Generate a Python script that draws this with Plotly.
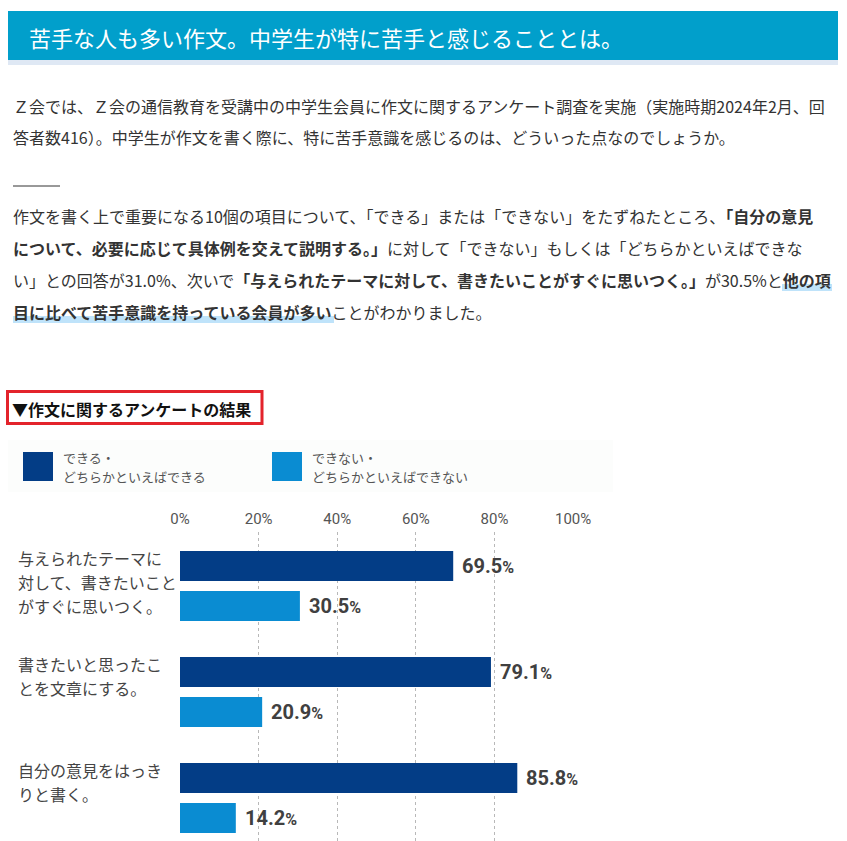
import plotly.graph_objects as go

W, H = 847, 841

# ---- data ----
categories = [
    "与えられたテーマに対して、書きたいことがすぐに思いつく。",
    "書きたいと思ったことを文章にする。",
    "自分の意見をはっきりと書く。",
]
category_lines = [
    ["与えられたテーマに", "対して、書きたいこと", "がすぐに思いつく。"],
    ["書きたいと思ったこ", "とを文章にする。"],
    ["自分の意見をはっき", "りと書く。"],
]
can_values = [69.5, 79.1, 85.8]
cannot_values = [30.5, 20.9, 14.2]
series_names = [["できる・", "どちらかといえばできる"], ["できない・", "どちらかといえばできない"]]
tick_values = [0, 20, 40, 60, 80, 100]
tick_labels = ["0%", "20%", "40%", "60%", "80%", "100%"]

title_text = "苦手な人も多い作文。中学生が特に苦手と感じることとは。"
para1 = [
    "Ｚ会では、Ｚ会の通信教育を受講中の中学生会員に作文に関するアンケート調査を実施（実施時期2024年2月、回",
    "答者数416）。中学生が作文を書く際に、特に苦手意識を感じるのは、どういった点なのでしょうか。",
]
para2 = [
    "作文を書く上で重要になる10個の項目について、「できる」または「できない」をたずねたところ、<b>「自分の意見</b>",
    "<b>について、必要に応じて具体例を交えて説明する。」</b>に対して「できない」もしくは「どちらかといえばできな",
    "い」との回答が31.0%、次いで<b>「与えられたテーマに対して、書きたいことがすぐに思いつく。」</b>が30.5%と<b>他の項</b>",
    "<b>目に比べて苦手意識を持っている会員が多い</b>ことがわかりました。",
]
section_label = "▼作文に関するアンケートの結果"

DARK = "#033D86"
LIGHT = "#0A8CD2"
JP = "Noto Sans CJK JP, sans-serif"
NUM = "Liberation Sans Narrow, Roboto, sans-serif"


def px(x):
    return x / W


def py(y):
    return 1 - y / H


fig = go.Figure()
fig.add_trace(go.Bar(y=categories, x=can_values, orientation="h", marker_color=DARK,
                     marker_line_width=0, name=series_names[0][0], showlegend=False, hoverinfo="skip"))
fig.add_trace(go.Bar(y=categories, x=cannot_values, orientation="h", marker_color=LIGHT,
                     marker_line_width=0, name=series_names[1][0], showlegend=False, hoverinfo="skip"))

shapes = []
annotations = []

# header bar
shapes.append(dict(type="rect", xref="paper", yref="paper", x0=px(8), x1=px(838), y0=py(60), y1=py(11),
                   fillcolor="#019FCB", line_width=0, layer="below"))
shapes.append(dict(type="rect", xref="paper", yref="paper", x0=px(8), x1=px(838), y0=py(65), y1=py(60),
                   fillcolor="#DFE8F4", line_width=0, layer="below"))
annotations.append(dict(text=title_text, xref="paper", yref="paper", x=px(27), y=py(37), xanchor="left",
                        yanchor="middle", showarrow=False, font=dict(family=JP, size=22, color="white")))

# paragraph 1
for i, line in enumerate(para1):
    annotations.append(dict(text=line, xref="paper", yref="paper", x=px(11), y=py(106 + 31 * i),
                            xanchor="left", yanchor="middle", showarrow=False,
                            font=dict(family=JP, size=16, color="#333333")))
shapes.append(dict(type="line", xref="paper", yref="paper", x0=px(13), x1=px(60), y0=py(186), y1=py(186),
                   line=dict(color="#333333", width=1)))

# highlight bands
shapes.append(dict(type="rect", xref="paper", yref="paper", x0=px(782), x1=px(832), y0=py(291), y1=py(284),
                   fillcolor="#BFE3FA", line_width=0, layer="below"))
shapes.append(dict(type="rect", xref="paper", yref="paper", x0=px(13), x1=px(334), y0=py(323), y1=py(316),
                   fillcolor="#BFE3FA", line_width=0, layer="below"))

# paragraph 2
for i, line in enumerate(para2):
    annotations.append(dict(text=line, xref="paper", yref="paper", x=px(11), y=py(216 + 32 * i),
                            xanchor="left", yanchor="middle", showarrow=False,
                            font=dict(family=JP, size=16, color="#333333")))

# section label with red box
shapes.append(dict(type="rect", xref="paper", yref="paper", x0=px(7.5), x1=px(262), y0=py(423.5), y1=py(391.5),
                   fillcolor="white", line=dict(color="#E3232B", width=3)))
annotations.append(dict(text="<b>" + section_label + "</b>", xref="paper", yref="paper", x=px(10), y=py(409),
                        xanchor="left", yanchor="middle", showarrow=False,
                        font=dict(family=JP, size=16, color="#111111")))

# legend strip
shapes.append(dict(type="rect", xref="paper", yref="paper", x0=px(8), x1=px(613), y0=py(492), y1=py(440),
                   fillcolor="#FCFDFC", line_width=0, layer="below"))
for k, (lx, col) in enumerate([(23, DARK), (272, LIGHT)]):
    shapes.append(dict(type="rect", xref="paper", yref="paper", x0=px(lx), x1=px(lx + 30), y0=py(481),
                       y1=py(452), fillcolor=col, line_width=0))
    for j, txt in enumerate(series_names[k]):
        annotations.append(dict(text=txt, xref="paper", yref="paper", x=px(lx + 38), y=py(457 + 19 * j),
                                xanchor="left", yanchor="middle", showarrow=False, align="left",
                                font=dict(family=JP, size=13, color="#555555")))

# category labels (one annotation per line)
for cat, lines in zip(categories, category_lines):
    for i, line in enumerate(lines):
        annotations.append(dict(text=line, xref="paper", yref="y", x=px(16), y=cat,
                                xanchor="left", yanchor="middle", yshift=28 - 24 * i, showarrow=False,
                                align="left", font=dict(family=JP, size=16, color="#444444")))

# value labels
for vals, shift in [(can_values, 20), (cannot_values, -20)]:
    for cat, v in zip(categories, vals):
        annotations.append(dict(text=f"<b>{v:.1f}<span style='font-size:16px'>%</span></b>", x=v, y=cat,
                                xref="x", yref="y", xanchor="left", yanchor="middle", xshift=7,
                                yshift=shift, showarrow=False,
                                font=dict(family=NUM, size=20, color="#404040")))

top_px, bot_px = 532, 841
unit = 106
c0 = 586
y_top = 0 - (c0 - top_px) / unit
y_bot = 2 + (bot_px - (c0 + 2 * unit)) / unit

fig.update_layout(
    width=W, height=H, margin=dict(l=0, r=0, t=0, b=0, pad=0, autoexpand=False),
    paper_bgcolor="white", plot_bgcolor="white",
    barmode="group", bargap=0.245, bargroupgap=0.25,
    shapes=shapes, annotations=annotations,
    xaxis=dict(domain=[px(180), px(573.5)], range=[0, 100.1], side="top", automargin=False,
               tickvals=tick_values, ticktext=tick_labels, showgrid=True, griddash="dot",
               gridcolor="#B8B8B8", gridwidth=1, zeroline=False, showline=False, ticks="",
               ticklabelstandoff=4, tickfont=dict(family=NUM, size=15, color="#555555"),
               fixedrange=True),
    yaxis=dict(domain=[0, 1 - top_px / H], type="category", categoryorder="array", automargin=False,
               categoryarray=categories, range=[y_bot, y_top], showticklabels=False,
               showgrid=False, zeroline=False, fixedrange=True),
)

fig.write_html("out.html")
